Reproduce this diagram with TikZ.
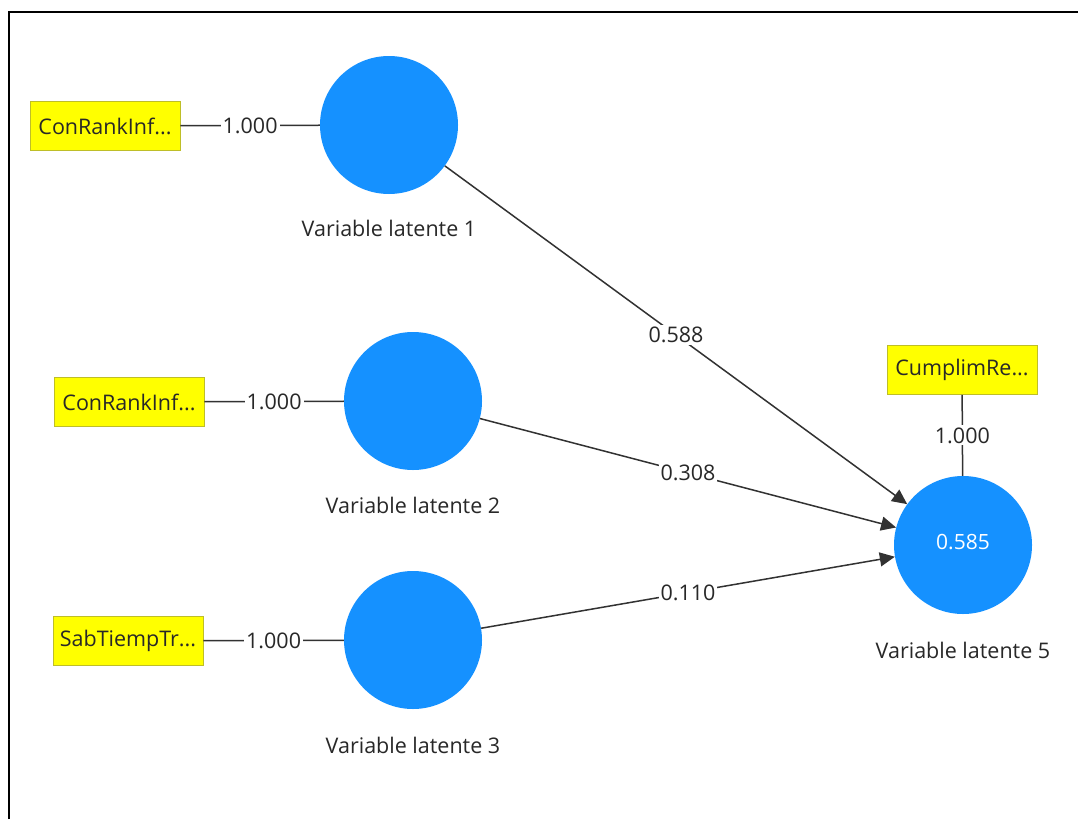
\documentclass[tikz,border=0pt]{standalone}
\usepackage{fontspec}
\setmainfont{Open Sans}
\usetikzlibrary{arrows.meta}
\definecolor{lvblue}{RGB}{21,145,255}
\definecolor{mvyellow}{RGB}{255,255,0}
\definecolor{mvborder}{RGB}{190,190,40}
\definecolor{txt}{RGB}{40,40,40}
\definecolor{edgec}{RGB}{50,50,50}
\begin{document}
\begin{tikzpicture}[x=1pt,y=-1pt,
 lv/.style={circle,fill=lvblue,minimum size=138pt,inner sep=0pt,text=white,font=\fontsize{21}{25}\selectfont},
 mv/.style={rectangle,fill=mvyellow,draw=mvborder,line width=0.8pt,minimum width=150pt,minimum height=49pt,inner sep=0pt,font=\fontsize{21.5}{25}\selectfont,text=txt},
 lvname/.style={font=\fontsize{21.5}{25}\selectfont,text=txt},
 coef/.style={fill=white,inner sep=2pt,font=\fontsize{21.5}{25}\selectfont,text=txt},
 link/.style={draw=edgec,line width=1.5pt},
 patharrow/.style={link,-{Triangle[length=15pt,width=14pt]}}
]
\useasboundingbox (0,0) rectangle (1078,819);
\fill[white] (0,0) rectangle (1078,819);
\draw[line width=2pt] (9,819) -- (9,12) -- (1078,12);

\node[lv] (v1) at (389,125) {};
\node[lv] (v2) at (413,401) {};
\node[lv] (v3) at (413,640) {};
\node[lv] (v5) at (963,545) {\raisebox{7pt}{0.585}};

\node[lvname] (n1) at (389,228) {Variable latente 1};
\node[lvname] (n2) at (413,505) {Variable latente 2};
\node[lvname] (n3) at (413,745) {Variable latente 3};
\node[lvname] (n5) at (963,650) {Variable latente 5};

\node[mv] (b1) at (105,126) {ConRankInf...};
\node[mv] (b2) at (129,402) {ConRankInf...};
\node[mv] (b3) at (128,641) {SabTiempTr...};
\node[mv] (b4) at (962,370) {CumplimRe...};

\draw[link] (b1) -- node[coef]{1.000} (v1);
\draw[link] (b2) -- node[coef]{1.000} (v2);
\draw[link] (b3) -- node[coef]{1.000} (v3);
\draw[link] (b4) -- node[coef]{1.000} (v5);

\draw[patharrow] (v1) -- node[coef]{0.588} (v5);
\draw[patharrow] (v2) -- node[coef]{0.308} (v5);
\draw[patharrow] (v3) -- node[coef]{0.110} (v5);
\end{tikzpicture}
\end{document}
